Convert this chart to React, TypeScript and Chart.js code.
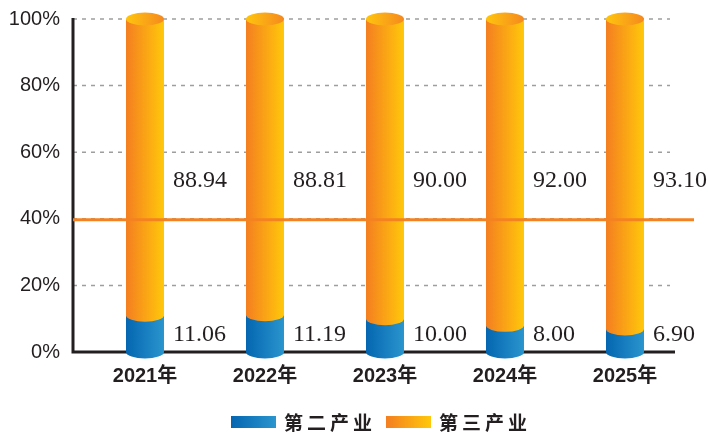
import React, { useEffect, useRef } from "react";
import { Chart, registerables } from "chart.js";

Chart.register(...registerables);

const categories = ["2021年", "2022年", "2023年", "2024年", "2025年"];
const seriesNames = ["第二产业", "第三产业"];
const secondaryValues = [11.06, 11.19, 10.0, 8.0, 6.9];
const tertiaryValues = [88.94, 88.81, 90.0, 92.0, 93.1];
const yTickValues = [0, 20, 40, 60, 80, 100];
const referenceValue = 40;

const INK = "#231F20";
const SANS = "'Liberation Sans', Arial, 'Noto Sans CJK SC', sans-serif";
const SERIF = "'Liberation Serif', 'Times New Roman', serif";

const blueStops = ["#0466B0", "#2A95CE"];
const orangeStops = ["#F47E20", "#FFC80A"];
const capStops = ["#FFC50D", "#F5891F"];

function hGrad(ctx: CanvasRenderingContext2D, x0: number, x1: number, stops: string[]) {
  const g = ctx.createLinearGradient(x0, 0, x1, 0);
  g.addColorStop(0, stops[0]);
  g.addColorStop(1, stops[1]);
  return g;
}

const cylinderPlugin = {
  id: "cylinders",
  beforeDatasetsDraw(chart: any) {
    const { ctx, chartArea, scales } = chart;
    const y = scales.y;
    const axisX = chartArea.left - 12;
    ctx.save();
    ctx.strokeStyle = "#9E9E9E";
    ctx.lineWidth = 1.5;
    ctx.setLineDash([4, 5]);
    yTickValues.forEach((v) => {
      if (v === 0) return;
      const py = y.getPixelForValue(v);
      ctx.beginPath();
      ctx.moveTo(axisX, py);
      ctx.lineTo(chartArea.right - 15, py);
      ctx.stroke();
    });
    ctx.setLineDash([]);
    ctx.strokeStyle = INK;
    ctx.lineWidth = 3;
    const y0 = y.getPixelForValue(0);
    ctx.beginPath();
    ctx.moveTo(axisX, y.getPixelForValue(100) - 1);
    ctx.lineTo(axisX, y0);
    ctx.lineTo(chartArea.right - 10, y0);
    ctx.stroke();
    ctx.restore();
  },
  afterDatasetsDraw(chart: any) {
    const { ctx, chartArea, scales } = chart;
    const y = scales.y;
    const m0 = chart.getDatasetMeta(0);
    const m1 = chart.getDatasetMeta(1);
    const ry = 6.5;
    ctx.save();
    m0.data.forEach((el0: any, i: number) => {
      const el1 = m1.data[i];
      const cx = el0.x;
      const w = el0.width / 2;
      const yBase = el0.base;
      const yMid = el0.y;
      const yTop = el1.y;
      ctx.beginPath();
      ctx.moveTo(cx - w, yMid);
      ctx.lineTo(cx - w, yBase);
      ctx.ellipse(cx, yBase, w, ry, 0, Math.PI, 0, true);
      ctx.lineTo(cx + w, yMid);
      ctx.closePath();
      ctx.fillStyle = hGrad(ctx, cx - w, cx + w, blueStops);
      ctx.fill();
      ctx.beginPath();
      ctx.moveTo(cx - w, yTop);
      ctx.lineTo(cx - w, yMid);
      ctx.ellipse(cx, yMid, w, ry, 0, Math.PI, 0, true);
      ctx.lineTo(cx + w, yTop);
      ctx.closePath();
      ctx.fillStyle = hGrad(ctx, cx - w, cx + w, orangeStops);
      ctx.fill();
      ctx.beginPath();
      ctx.ellipse(cx, yTop, w, ry, 0, 0, Math.PI * 2);
      ctx.fillStyle = hGrad(ctx, cx - w, cx + w, capStops);
      ctx.fill();
    });
    const ry40 = y.getPixelForValue(referenceValue) + 1;
    ctx.strokeStyle = "#F58220";
    ctx.lineWidth = 3;
    ctx.beginPath();
    ctx.moveTo(chartArea.left - 12, ry40);
    ctx.lineTo(chartArea.right + 9, ry40);
    ctx.stroke();
    ctx.fillStyle = INK;
    ctx.font = `24px ${SERIF}`;
    ctx.textAlign = "left";
    ctx.textBaseline = "middle";
    m0.data.forEach((el0: any, i: number) => {
      const lx = el0.x + el0.width / 2 + 9;
      ctx.fillText(tertiaryValues[i].toFixed(2), lx, y.getPixelForValue(51.3));
      ctx.fillText(secondaryValues[i].toFixed(2), lx, y.getPixelForValue(5.1));
    });
    ctx.restore();
  },
  afterDraw(chart: any) {
    const { ctx, chartArea } = chart;
    ctx.save();
    ctx.font = `bold 19px 'Noto Sans CJK SC', sans-serif`;
    (ctx as any).letterSpacing = "4px";
    ctx.textBaseline = "middle";
    ctx.textAlign = "left";
    const boxW = 45, boxH = 12, gapBox = 8, gapItem = 14;
    const widths = seriesNames.map((n) => ctx.measureText(n).width - 4);
    const total = widths.reduce((a, b) => a + b, 0) + 2 * (boxW + gapBox) + gapItem;
    let x = (chartArea.left + chartArea.right) / 2 - 6 - total / 2;
    const cy = 422;
    const stops = [blueStops, orangeStops];
    seriesNames.forEach((n, i) => {
      ctx.fillStyle = hGrad(ctx, x, x + boxW, stops[i]);
      ctx.fillRect(x, cy - boxH / 2, boxW, boxH);
      x += boxW + gapBox;
      ctx.fillStyle = INK;
      ctx.fillText(n, x, cy + 1);
      x += widths[i] + gapItem;
    });
    ctx.restore();
  },
};

export default function App() {
  const ref = useRef<HTMLCanvasElement>(null);
  useEffect(() => {
    document.body.style.margin = "0";
    const chart = new Chart(ref.current!, {
      type: "bar",
      data: {
        labels: categories,
        datasets: [
          { label: seriesNames[0], data: secondaryValues, backgroundColor: "rgba(0,0,0,0)", borderWidth: 0, barThickness: 38 },
          { label: seriesNames[1], data: tertiaryValues, backgroundColor: "rgba(0,0,0,0)", borderWidth: 0, barThickness: 38 },
        ],
      },
      options: {
        animation: false,
        responsive: true,
        maintainAspectRatio: false,
        layout: { padding: { top: 19, right: 23, bottom: 0, left: 0 } },
        plugins: { legend: { display: false }, tooltip: { enabled: false } },
        scales: {
          x: {
            stacked: true,
            offset: true,
            grid: { display: false, drawTicks: false },
            border: { display: false },
            ticks: { color: INK, font: { family: SANS, size: 20, weight: "bold" }, padding: 12, maxRotation: 0 },
            afterFit: (s: any) => { s.height = 80; },
          },
          y: {
            stacked: true,
            min: 0,
            max: 100,
            grid: { display: false, drawTicks: false },
            border: { display: false },
            ticks: {
              stepSize: 20,
              color: INK,
              font: { family: SANS, size: 20 },
              padding: 25,
              callback: (v: any) => `${v}%`,
            },
            afterFit: (s: any) => { s.width = 85; s.paddingTop = 0; s.paddingBottom = 0; },
          },
        },
      },
      plugins: [cylinderPlugin],
    } as any);
    return () => chart.destroy();
  }, []);
  return (
    <div style={{ position: "relative", width: 708, height: 432 }}>
      <canvas ref={ref} />
    </div>
  );
}
